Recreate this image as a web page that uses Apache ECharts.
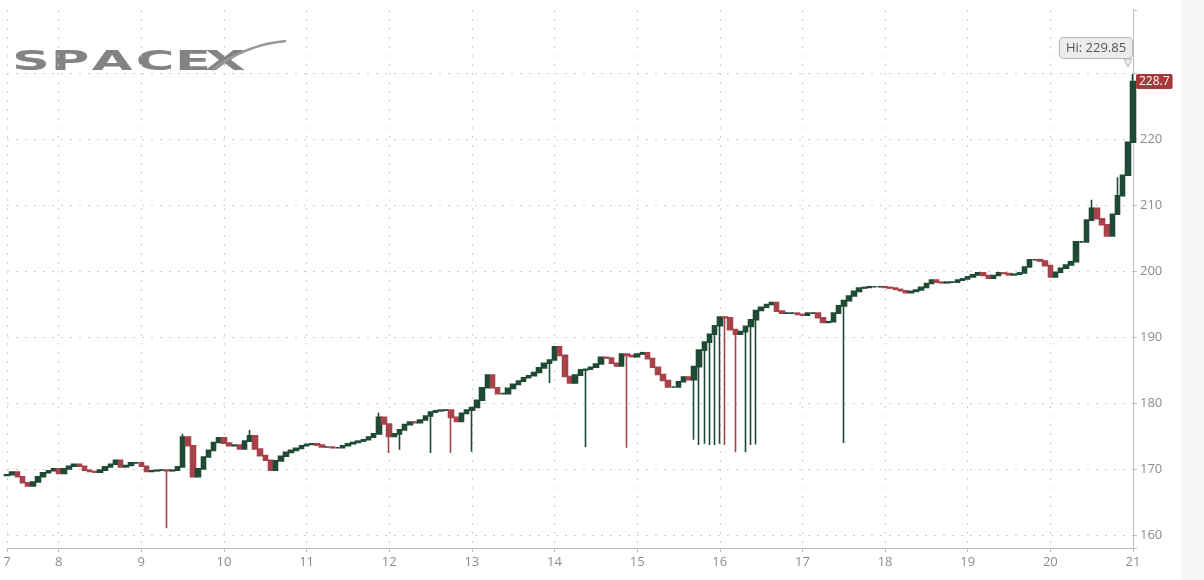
<!DOCTYPE html>
<html style="height: 100%">
<head>
<meta charset="utf-8">
</head>
<body style="height: 100%; margin: 0; background: #fff">
<div id="container" style="width: 1204px; height: 580px"></div>
<script src="https://cdn.jsdelivr.net/npm/echarts@6/dist/echarts.min.js"></script>
<script>
// closing price of each bar (16 bars per session, first session partial)
var closes = [
  169.1, 169.5, 168.8, 167.9, 167.4, 168.0, 168.8, 169.4, 169.7, 170.0,
  169.3, 170.0, 170.4, 170.7, 170.4, 169.8, 169.6, 169.5, 169.8, 170.3, 170.7, 171.3, 170.3, 170.5, 170.9, 170.9,
  170.4, 169.6, 169.7, 169.8, 169.8, 169.7, 169.8, 170.3, 174.8, 173.5, 168.8, 170.0, 171.8, 172.8, 174.0, 174.7,
  173.9, 173.5, 173.6, 173.0, 174.2, 175.0, 173.0, 172.0, 171.3, 169.8, 171.2, 171.9, 172.5, 172.8, 173.1, 173.5,
  173.7, 173.8, 173.6, 173.3, 173.3, 173.2, 173.2, 173.5, 173.8, 174.0, 174.2, 174.4, 174.8, 175.3, 177.8, 176.8,
  174.9, 175.3, 175.9, 176.7, 177.1, 177.0, 177.4, 178.0, 178.6, 178.8, 178.9, 178.9, 177.8, 177.2, 178.4, 178.9,
  179.3, 180.4, 182.3, 184.2, 182.3, 181.4, 181.4, 182.2, 182.8, 183.3, 183.8, 184.1, 184.6, 185.3, 186.0, 186.5,
  188.5, 187.2, 184.0, 183.0, 184.2, 185.0, 185.1, 185.4, 185.9, 186.9, 186.8, 186.0, 185.6, 187.4, 187.2, 187.0,
  187.4, 187.6, 186.7, 185.4, 184.3, 183.4, 182.4, 182.4, 183.2, 183.9, 183.5, 185.5, 188.0, 189.2, 190.4, 191.7,
  193.0, 192.9, 191.1, 190.4, 190.8, 191.6, 192.6, 194.0, 194.5, 194.9, 195.2, 193.9, 193.6, 193.6, 193.6, 193.4,
  193.3, 193.6, 193.6, 192.9, 192.2, 192.3, 193.6, 194.7, 195.5, 196.2, 196.9, 197.4, 197.5, 197.6, 197.6, 197.6,
  197.5, 197.4, 197.2, 197.0, 196.7, 196.9, 197.1, 197.5, 198.1, 198.6, 198.3, 198.2, 198.3, 198.3, 198.6, 198.8,
  199.1, 199.4, 199.7, 199.3, 198.9, 199.3, 199.7, 199.6, 199.4, 199.5, 199.7, 200.6, 201.7, 201.7, 201.5, 200.8,
  199.1, 199.8, 200.4, 200.9, 201.4, 204.4, 204.4, 207.7, 209.5, 207.9, 207.0, 205.3, 208.6, 211.4, 214.5, 219.5,
  228.7
];
var firstOpen = 169.0;

// bars with long lower wicks
var spikeIdx = [31, 74, 76, 82, 86, 90, 105, 112, 120, 133, 134, 135, 136, 137, 138, 139, 141, 143, 144, 145, 162];
var spikeLow = [161.0, 172.4, 172.9, 172.4, 172.4, 172.6, 183.0, 173.3, 173.2, 174.4, 173.6, 173.8, 173.6, 173.6, 173.8, 173.6, 172.5, 172.5, 173.6, 173.7, 173.9];

// bars with upper wicks
var highIdx = [34, 47, 72, 210, 215, 218];
var highVal = [175.3, 175.9, 178.5, 210.8, 214.2, 229.85];

var dayStarts = [0, 10, 26, 42, 58, 74, 90, 106, 122, 138, 154, 170, 186, 202, 218];
var dayLabels = ['7', '8', '9', '10', '11', '12', '13', '14', '15', '16', '17', '18', '19', '20', '21'];

var lastPrice = 228.7;
var dayHigh = 229.85;

var cats = closes.map(function (c, i) { return String(i); });
var ohlc = closes.map(function (c, i) {
    var o = i ? closes[i - 1] : firstOpen;
    var lo = Math.min(o, c), hi = Math.max(o, c);
    var s = spikeIdx.indexOf(i);
    if (s >= 0) lo = spikeLow[s];
    var h = highIdx.indexOf(i);
    if (h >= 0) hi = highVal[h];
    return [o, c, lo, hi];
});

function isDayStart(idx) { return dayStarts.indexOf(idx) >= 0; }

var gridColor = '#cfcfcf';
var labelColor = '#8c8c8c';

var myChart = echarts.init(document.getElementById('container'));

var logo = ['S', 'P', 'A', 'C', 'E', 'X'];
var logoX = [31, 70, 112, 155, 193, 225];
var graphics = logo.map(function (ch, k) {
    return {
        type: 'text', x: logoX[k], y: 63, scaleX: 1.95,
        style: { text: ch, font: 'bold 27px "DejaVu Sans"', fill: '#838383', align: 'center', verticalAlign: 'middle' }
    };
});
graphics.push({
    type: 'bezierCurve',
    shape: { x1: 212, y1: 70, x2: 286, y2: 41, cpx1: 236, cpy1: 52, cpx2: 262, cpy2: 43 },
    style: { stroke: '#999', lineWidth: 2.5, fill: null }
});
graphics.unshift({
    type: 'rect', z: -10,
    shape: { x: 1182, y: 0, width: 22, height: 580 },
    style: { fill: '#f6f6f6' }
});

var option = {
    animation: false,
    backgroundColor: '#fff',
    graphic: graphics,
    grid: { left: 7, right: 71, top: 10, bottom: 32 },
    xAxis: {
        type: 'category',
        data: cats,
        boundaryGap: false,
        axisLine: { lineStyle: { color: '#bdbdbd' } },
        axisTick: { interval: isDayStart, length: 4, lineStyle: { color: '#bdbdbd' } },
        axisLabel: {
            interval: isDayStart,
            color: labelColor, fontSize: 13, fontFamily: 'Open Sans', margin: 8,
            formatter: function (v, idx) { return dayLabels[dayStarts.indexOf(idx)]; }
        },
        splitLine: { show: true, interval: isDayStart, lineStyle: { color: gridColor, type: [2, 7] } }
    },
    yAxis: {
        type: 'value',
        position: 'right',
        min: 158,
        max: 239.55,
        splitNumber: 8,
        axisLine: { show: true, lineStyle: { color: '#bdbdbd' } },
        axisTick: { show: true, length: 4, lineStyle: { color: '#bdbdbd' } },
        axisLabel: {
            color: labelColor, fontSize: 13, fontFamily: 'Open Sans', margin: 7,
            formatter: function (v) { return (v % 10 === 0 && v <= 220) ? String(v) : ''; }
        },
        splitLine: { showMinLine: false, showMaxLine: false, lineStyle: { color: gridColor, type: [2, 7] } }
    },
    series: [{
        type: 'candlestick',
        data: ohlc,
        barWidth: 5,
        itemStyle: {
            color: '#1f4a36', color0: '#a8424a',
            borderColor: '#1f4a36', borderColor0: '#a8424a', borderWidth: 1.6
        },
        markLine: {
            silent: true, symbol: 'none',
            lineStyle: { color: 'transparent' },
            label: {
                position: 'end', distance: 3,
                formatter: String(lastPrice),
                color: '#fff', backgroundColor: '#a8383c', borderRadius: 2,
                padding: [2, 3, 1, 3], fontSize: 12, fontFamily: 'Open Sans'
            },
            data: [{ yAxis: lastPrice }]
        },
        markPoint: {
            silent: true,
            data: [
                {
                    coord: [cats[cats.length - 1], dayHigh],
                    symbol: 'triangle', symbolRotate: 180, symbolSize: [8, 8], symbolOffset: [-5, -11],
                    itemStyle: { color: '#ececec', borderColor: '#b3b3b3', borderWidth: 1 },
                    label: { show: false }
                },
                {
                    coord: [cats[cats.length - 1], dayHigh],
                    symbol: 'circle', symbolSize: 0,
                    label: {
                        show: true, position: 'inside', offset: [-37, -26],
                        formatter: 'Hi: ' + dayHigh,
                        color: '#555', fontSize: 13, fontFamily: 'Open Sans',
                        backgroundColor: '#ececec', borderColor: '#b3b3b3', borderWidth: 1,
                        borderRadius: 4, padding: [4, 6, 3, 6]
                    }
                }
            ]
        }
    }]
};

myChart.setOption(option);
</script>
</body>
</html>
